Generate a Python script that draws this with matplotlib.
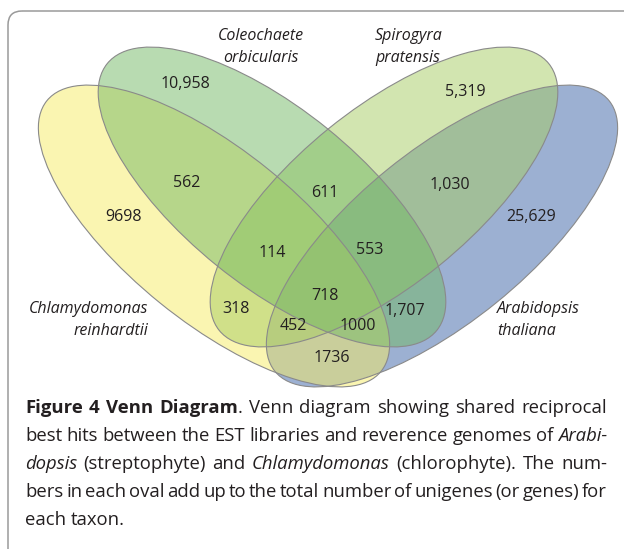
import matplotlib
matplotlib.use("Agg")
import matplotlib.pyplot as plt
from matplotlib.patches import Ellipse, FancyBboxPatch

# set names and counts for each region of the 4-way venn
set_names = [["Chlamydomonas", "reinhardtii"],
             ["Coleochaete", "orbicularis"],
             ["Spirogyra", "pratensis"],
             ["Arabidopsis", "thaliana"]]
set_colors = ["#f7ed65", "#73b965", "#a7cd63", "#3b63a7"]

regions = ["A", "B", "C", "D", "AB", "BC", "CD", "ABC", "BCD", "ABCD",
           "AC", "BD", "ACD", "ABD", "AD"]
counts = ["9698", "10,958", "5,319", "25,629", "562", "611", "1,030", "114",
          "553", "718", "318", "1,707", "452", "1000", "1736"]

caption_lines = [
    [("Figure 4 Venn Diagram", "bold"), (". Venn diagram showing shared reciprocal", "normal")],
    [("best hits between the EST libraries and reverence genomes of ", "normal"), ("Arabi-", "italic")],
    [("dopsis", "italic"), (" (streptophyte) and ", "normal"), ("Chlamydomonas", "italic"),
     (" (chlorophyte). The num-", "normal")],
    [("bers in each oval add up to the total number of unigenes (or genes) for", "normal")],
    [("each taxon.", "normal")],
]

FONT = "Open Sans"
INK = "#231f20"
W, H = 624, 549

fig = plt.figure(figsize=(W / 100, H / 100), dpi=100)
ax = fig.add_axes([0, 0, 1, 1])
ax.set_xlim(0, W)
ax.set_ylim(H, 0)
ax.axis("off")

# frame (rounded corner top-left, runs off right and bottom)
ax.add_patch(FancyBboxPatch((8, 11), 800, 800, boxstyle="round,pad=0,rounding_size=14",
                            facecolor="none", edgecolor="#9a9a9a", lw=1.1))

# ellipses: cx, cy, width, height, angle (pixel coords, y down)
geom = [(214, 236, 430, 172, 39),
        (272, 197, 424, 176, 39),
        (384, 197, 424, 176, -39),
        (442, 236, 430, 172, -39)]
draw_order = [3, 0, 2, 1]
for i in draw_order:
    cx, cy, w, h, ang = geom[i]
    ax.add_patch(Ellipse((cx, cy), w, h, angle=ang, facecolor=set_colors[i],
                         alpha=0.5, edgecolor="none"))
for i in draw_order:
    cx, cy, w, h, ang = geom[i]
    ax.add_patch(Ellipse((cx, cy), w, h, angle=ang, facecolor="none",
                         edgecolor="#8a8a8a", lw=0.8))

# where each count sits
count_pos = {"A": (123, 217), "B": (185, 84), "C": (465, 92), "D": (531, 217),
             "AB": (187, 183), "BC": (325, 193), "CD": (450, 185),
             "ABC": (272, 253), "BCD": (370, 250), "ABCD": (325, 296),
             "AC": (236, 309), "BD": (405, 311), "ACD": (293, 326),
             "ABD": (358, 326), "AD": (332, 358)}
for reg, c in zip(regions, counts):
    x, y = count_pos[reg]
    ax.text(x, y, c, ha="center", va="center", fontsize=11.5, family=FONT, color=INK)

# set labels
label_pos = [(148, 309, "right"), (261, 36, "center"), (375, 36, "left"), (497, 309, "left")]
for (x, y, ha), lines in zip(label_pos, set_names):
    for k, line in enumerate(lines):
        ax.text(x, y + 22 * k, line, ha=ha, va="center", fontsize=11.5,
                family=FONT, style="italic", color=INK)

# caption, justified like the journal layout
fig.canvas.draw()
r = fig.canvas.get_renderer()


def text_width(s, sty, size):
    t = ax.text(0, 0, s, fontsize=size, family=FONT,
                fontweight="bold" if sty == "bold" else "normal",
                fontstyle="italic" if sty == "italic" else "normal")
    wd = t.get_window_extent(r).width
    t.remove()
    return wd


cap_size = 13.3
x0, x1 = 25, 607
space = text_width("a a", "normal", cap_size) - text_width("aa", "normal", cap_size)
for n, runs in enumerate(caption_lines):
    words = [[]]
    for s, sty in runs:
        for k, piece in enumerate(s.split(" ")):
            if k > 0:
                words.append([])
            if piece:
                words[-1].append((piece, sty))
    words = [wd for wd in words if wd]
    widths = [[text_width(p, sty, cap_size) for p, sty in wd] for wd in words]
    total = sum(sum(ws) for ws in widths)
    last = n == len(caption_lines) - 1
    gap = space if last else (x1 - x0 - total) / (len(words) - 1)
    x = x0
    y = 413 + 28 * n
    for wd, ws in zip(words, widths):
        for (p, sty), pw in zip(wd, ws):
            ax.text(x, y, p, ha="left", va="baseline", fontsize=cap_size, family=FONT,
                    fontweight="bold" if sty == "bold" else "normal",
                    fontstyle="italic" if sty == "italic" else "normal", color=INK)
            x += pw
        x += gap

fig.savefig("out.png", dpi=100)
